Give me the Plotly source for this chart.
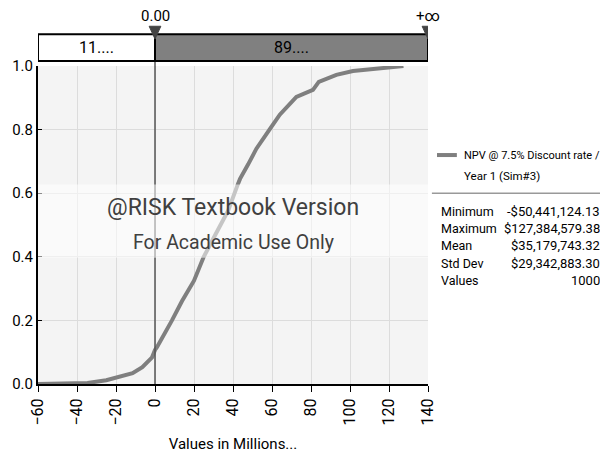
import plotly.graph_objects as go

cdf_x = [-60, -50.4, -34.6, -25, -18, -11.5, -6.5, -3, -1.5, 0, 1, 8.7, 13.8, 20, 25, 31,
         37.5, 42.6, 43.6, 47.7, 52, 58.7, 64, 72.5, 81, 84, 93, 101.5, 112, 118, 127.4]
cdf_p = [0.0, 0.001, 0.003, 0.012, 0.022, 0.034, 0.053, 0.075, 0.084, 0.107, 0.116, 0.2,
         0.26, 0.325, 0.40, 0.47, 0.545, 0.63, 0.645, 0.69, 0.74, 0.80, 0.847, 0.903,
         0.925, 0.95, 0.972, 0.984, 0.99, 0.995, 1.0]

x_ticks = [-60, -40, -20, 0, 20, 40, 60, 80, 100, 120, 140]
y_ticks = [0.0, 0.2, 0.4, 0.6, 0.8, 1.0]

left_cut, right_cut = 0.0, 140
left_label, right_label = "11....", "89...."
cut_labels = ["0.00", "+∞"]

series_name = ["NPV @ 7.5% Discount rate /", "Year 1 (Sim#3)"]
stat_names = ["Minimum", "Maximum", "Mean", "Std Dev", "Values"]
stat_values = ["-$50,441,124.13", "$127,384,579.38", "$35,179,743.32", "$29,342,883.30", "1000"]

FONT = "Roboto, Liberation Sans, sans-serif"
CURVE = "#7f7f7f"

fig = go.Figure()

fig.add_trace(go.Scatter(
    x=cdf_x, y=cdf_p, mode="lines",
    line=dict(color=CURVE, width=4),
    hoverinfo="skip", showlegend=False
))

shapes = []
annotations = []


def note(text, x, y, xref="paper", yref="paper", size=13, xanchor="center", color="black"):
    annotations.append(dict(text=text, x=x, y=y, xref=xref, yref=yref, xanchor=xanchor,
                            yanchor="middle", showarrow=False,
                            font=dict(size=size, color=color, family=FONT)))


# zero line
shapes.append(dict(type="line", xref="x", yref="paper", x0=left_cut, x1=left_cut,
                   y0=0, y1=1.1, line=dict(color="#555555", width=1.5), layer="above"))

# watermark band
shapes.append(dict(type="rect", xref="paper", yref="y", x0=0, x1=1, y0=0.397, y1=0.627,
                   fillcolor="rgba(255,255,255,0.55)", line=dict(width=0), layer="above"))
note("@RISK Textbook Version", 40, 0.556, "x", "y", size=23, color="#404040")
note("For Academic Use Only", 40, 0.445, "x", "y", size=19.5, color="#404040")

# top delimiter bar
shapes.append(dict(type="rect", xref="x", yref="paper", x0=-60, x1=left_cut, y0=1.016, y1=1.1,
                   fillcolor="white", line=dict(color="black", width=2)))
shapes.append(dict(type="rect", xref="x", yref="paper", x0=left_cut, x1=right_cut, y0=1.016, y1=1.1,
                   fillcolor="#808080", line=dict(color="black", width=2)))
note(left_label, (-60 + left_cut) / 2, 1.058, "x", size=16)
note(right_label, (left_cut + right_cut) / 2, 1.058, "x", size=16)
for cx, lab in zip([left_cut, right_cut], cut_labels):
    shapes.append(dict(type="path", xref="x", yref="paper",
                       path=f"M {cx - 3},1.125 L {cx + 3},1.125 L {cx},1.085 Z",
                       fillcolor="#444444", line=dict(color="#444444", width=1)))
    note(lab, cx, 1.157, "x", size=15)

# right-hand legend and statistics
shapes.append(dict(type="line", xref="paper", yref="paper", x0=1.023, x1=1.074, y0=0.72, y1=0.72,
                   line=dict(color=CURVE, width=4)))
note(series_name[0], 1.087, 0.72, size=11, xanchor="left")
note(series_name[1], 1.087, 0.654, size=11.5, xanchor="left")
shapes.append(dict(type="line", xref="paper", yref="paper", x0=1.01, x1=1.445, y0=0.60, y1=0.60,
                   line=dict(color="#999999", width=1.5)))
for i, (nm, val) in enumerate(zip(stat_names, stat_values)):
    yy = 0.544 - i * 0.055
    note(nm, 1.028, yy, size=12.5, xanchor="left")
    note(val, 1.445, yy, size=13, xanchor="right")

# the page body adds 8px around the figure, so the figure is sized to fit inside it
fig.update_layout(
    width=600, height=445,
    margin=dict(l=30, r=180, t=58, b=69),
    paper_bgcolor="white", plot_bgcolor="#f4f4f4",
    font=dict(family=FONT, size=15, color="black"),
    shapes=shapes, annotations=annotations,
    xaxis=dict(range=[-60, 140], tickvals=x_ticks, tickangle=-90, showgrid=True,
               gridcolor="#dcdcdc", gridwidth=1, zeroline=False, showline=True,
               linecolor="black", linewidth=2, ticks="outside", ticklen=6, tickcolor="black",
               title=dict(text="Values in Millions...", font=dict(size=15), standoff=18),
               tickfont=dict(size=16), automargin=False),
    yaxis=dict(range=[0, 1.0], tickvals=y_ticks, tickformat=".1f", showgrid=True,
               gridcolor="#dcdcdc", gridwidth=1, zeroline=False, showline=True,
               linecolor="black", linewidth=2, ticks="inside", ticklen=4, tickcolor="black",
               tickfont=dict(size=15), automargin=False),
)

fig.write_html("out.html")
